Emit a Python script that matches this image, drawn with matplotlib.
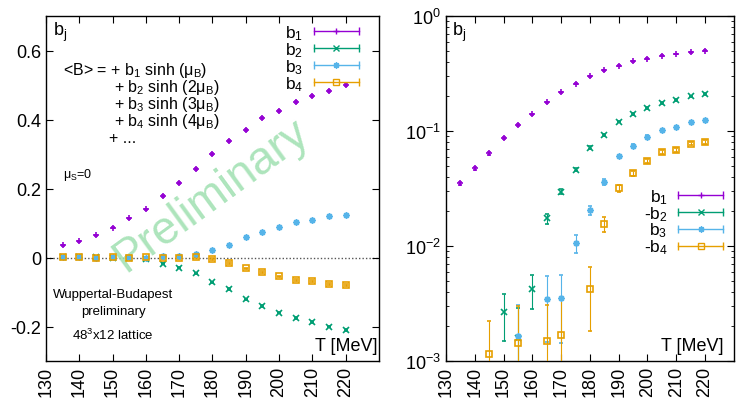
import matplotlib
matplotlib.use("Agg")
import matplotlib.pyplot as plt
import numpy as np
from matplotlib.legend_handler import HandlerBase
from matplotlib.lines import Line2D
from matplotlib.ticker import LogLocator, NullFormatter

plt.rcParams["font.family"] = ["Liberation Sans", "DejaVu Sans"]
plt.rcParams["mathtext.fontset"] = "custom"
plt.rcParams["mathtext.rm"] = "Liberation Sans"
plt.rcParams["mathtext.it"] = "Liberation Sans:italic"
plt.rcParams["mathtext.default"] = "regular"
plt.rcParams["axes.unicode_minus"] = False

# data
T = [135, 140, 145, 150, 155, 160, 165, 170, 175, 180, 185, 190, 195, 200, 205, 210, 215, 220]
b1 = [0.0351, 0.0474, 0.0640, 0.0869, 0.1135, 0.1397, 0.1775, 0.2170, 0.2577, 0.3006,
      0.3370, 0.3700, 0.4040, 0.4255, 0.4517, 0.4673, 0.4830, 0.5000]
b1_err = [0.0012, 0.0014, 0.0016, 0.0018, 0.0020, 0.0022, 0.0024, 0.0025, 0.0026, 0.0027,
          0.0028, 0.0030, 0.0030, 0.0031, 0.0032, 0.0033, 0.0034, 0.0035]
b2 = [0.0004, 0.0003, 0.0002, -0.00265, -0.0016, -0.00423, -0.0174, -0.0297, -0.0461, -0.0716,
      -0.0917, -0.121, -0.141, -0.1595, -0.175, -0.186, -0.200, -0.210]
b2_err = [0.0008, 0.0008, 0.0009, 0.00115, 0.0013, 0.0014, 0.0017, 0.0015, 0.0016, 0.0018,
          0.0020, 0.0022, 0.0024, 0.0025, 0.0026, 0.0027, 0.0028, 0.0030]
b3 = [0.0002, 0.0001, -0.0001, 0.0003, 0.00166, -0.0005, 0.00346, 0.00353, 0.01055, 0.0204,
      0.0362, 0.0603, 0.0741, 0.0891, 0.1026, 0.1076, 0.1190, 0.1246]
b3_err = [0.0004, 0.0004, 0.0004, 0.0005, 0.0014, 0.0012, 0.0020, 0.0021, 0.0019, 0.0018,
          0.0020, 0.0022, 0.0023, 0.0024, 0.0025, 0.0026, 0.0027, 0.0028]
b4 = [0.0003, 0.0002, -0.00115, 0.0002, -0.00143, 0.0008, -0.0015, -0.0017, 0.0002, -0.00423,
      -0.0156, -0.0318, -0.0428, -0.0549, -0.0657, -0.0688, -0.0776, -0.0807]
b4_err = [0.0005, 0.0005, 0.0011, 0.0006, 0.0016, 0.0004, 0.0016, 0.0018, 0.0006, 0.0024,
          0.0024, 0.0022, 0.0023, 0.0024, 0.0025, 0.0026, 0.0027, 0.0028]

COLORS = ["#9400d3", "#009e73", "#56b4e9", "#e69f00"]
MARKERS = ["+", "x", (8, 2, 0), "s"]
MSIZE = [5, 4, 4.5, 5]
x_ticks = [130, 140, 150, 160, 170, 180, 190, 200, 210, 220]


class GnuplotKey(HandlerBase):
    # gnuplot-style key sample: horizontal bar with end caps and the point in the middle
    def create_artists(self, legend, orig_handle, xdescent, ydescent, width, height, fontsize, trans):
        c = orig_handle.get_color()
        y = height / 2 - ydescent
        bar = Line2D([-xdescent, width - xdescent], [y, y], color=c, lw=1.0,
                     marker="|", markersize=6, markeredgewidth=1.0, transform=trans)
        pt = Line2D([width / 2 - xdescent], [y], color=c, ls="none", marker=orig_handle.get_marker(),
                    markersize=orig_handle.get_markersize(), markerfacecolor="none",
                    markeredgewidth=1.0, transform=trans)
        return [bar, pt]


def style_axes(ax):
    ax.tick_params(which="both", direction="in", top=True, right=True, labelsize=13)
    ax.tick_params(which="major", length=5, width=0.8)
    ax.tick_params(which="minor", length=2.5, width=0.6)
    ax.set_xlim(130, 230)
    ax.set_xticks(x_ticks)
    ax.set_xticklabels([str(v) for v in x_ticks], rotation=90)
    for s in ax.spines.values():
        s.set_linewidth(1.0)


def main():
    fig = plt.figure(figsize=(7.36, 4.02), dpi=100)
    ax1 = fig.add_axes([0.0625, 0.0995, 0.4524, 0.858])
    ax2 = fig.add_axes([0.606, 0.0995, 0.391, 0.858])

    series = [b1, b2, b3, b4]
    errs = [b1_err, b2_err, b3_err, b4_err]

    # left: linear
    handles = []
    for i in range(4):
        ax1.errorbar(T, series[i], yerr=errs[i], color=COLORS[i], marker=MARKERS[i], ms=MSIZE[i],
                     mfc="none", mew=1.2, ls="none", elinewidth=0.8, capsize=1.5, capthick=0.8, zorder=3)
        handles.append(Line2D([], [], color=COLORS[i], marker=MARKERS[i], markersize=MSIZE[i]))
    ax1.axhline(0, color="#555555", lw=1.0, ls=(0, (1, 1.5)), zorder=1)
    style_axes(ax1)
    ax1.set_ylim(-0.3, 0.7)
    ax1.set_yticks([-0.2, 0, 0.2, 0.4, 0.6])
    ax1.set_yticklabels(["-0.2", "0", "0.2", "0.4", "0.6"])

    ax1.legend(handles, ["b$_1$", "b$_2$", "b$_3$", "b$_4$"], handler_map={Line2D: GnuplotKey()},
               loc="upper right", bbox_to_anchor=(0.95, 0.99), frameon=False, markerfirst=False,
               fontsize=12.5, handlelength=2.6, handletextpad=0.6, labelspacing=-0.1,
               borderaxespad=0.0, borderpad=0.2)

    ax1.text(0.02, 0.955, "b$_j$", transform=ax1.transAxes, fontsize=13, va="center", ha="left")
    eq_lines = ["<B> = + b$_1$ sinh (μ$_B$)", "+ b$_2$ sinh (2μ$_B$)", "+ b$_3$ sinh (3μ$_B$)",
                "+ b$_4$ sinh (4μ$_B$)", "+ ..."]
    eq_x = [63, 114, 114, 114, 109]
    eq_y = [70, 87, 104, 121, 138]
    for s, px, py in zip(eq_lines, eq_x, eq_y):
        ax1.text((px - 46) / 333, (362 - py) / 345, s, transform=ax1.transAxes, fontsize=11.5,
                 va="center", ha="left")
    ax1.text((63 - 46) / 333, (362 - 175) / 345, "μ$_S$=0", transform=ax1.transAxes, fontsize=9,
             va="center", ha="left")
    for s, py in zip(["Wuppertal-Budapest", "preliminary", "48$^3$x12 lattice"], [295, 312, 335]):
        ax1.text((113 - 46) / 333, (362 - py) / 345, s, transform=ax1.transAxes, fontsize=9.5,
                 va="center", ha="center")
    ax1.text(0.995, 0.045, "T [MeV]", transform=ax1.transAxes, fontsize=13, ha="right", va="center")
    ax1.text(179.5, 0.183, "Preliminary", fontsize=33, color="#9fe0b0", alpha=0.85, rotation=36,
             ha="center", va="center", zorder=2)

    # right: log of |b_j| with alternating signs
    signs = [1, -1, 1, -1]
    handles2 = []
    for i in range(4):
        vals = [signs[i] * v for v in series[i]]
        ax2.errorbar(T, vals, yerr=errs[i], color=COLORS[i], marker=MARKERS[i], ms=MSIZE[i],
                     mfc="none", mew=1.2, ls="none", elinewidth=0.8, capsize=1.5, capthick=0.8, zorder=3)
        handles2.append(Line2D([], [], color=COLORS[i], marker=MARKERS[i], markersize=MSIZE[i]))
    ax2.set_yscale("log", nonpositive="clip")
    style_axes(ax2)
    ax2.set_ylim(1e-3, 1)
    ax2.yaxis.set_major_locator(LogLocator(base=10, numticks=10))
    ax2.yaxis.set_minor_locator(LogLocator(base=10, subs=np.arange(2, 10), numticks=10))
    ax2.yaxis.set_minor_formatter(NullFormatter())

    ax2.legend(handles2, ["b$_1$", "-b$_2$", "b$_3$", "-b$_4$"], handler_map={Line2D: GnuplotKey()},
               loc="upper right", bbox_to_anchor=(0.975, 0.515), frameon=False, markerfirst=False,
               fontsize=12.5, handlelength=2.6, handletextpad=0.6, labelspacing=-0.1,
               borderaxespad=0.0, borderpad=0.2)
    ax2.text(0.02, 0.955, "b$_j$", transform=ax2.transAxes, fontsize=13, va="center", ha="left")
    ax2.text(0.965, 0.045, "T [MeV]", transform=ax2.transAxes, fontsize=13, ha="right", va="center")

    fig.savefig("out.png", dpi=100)


if __name__ == "__main__":
    main()
